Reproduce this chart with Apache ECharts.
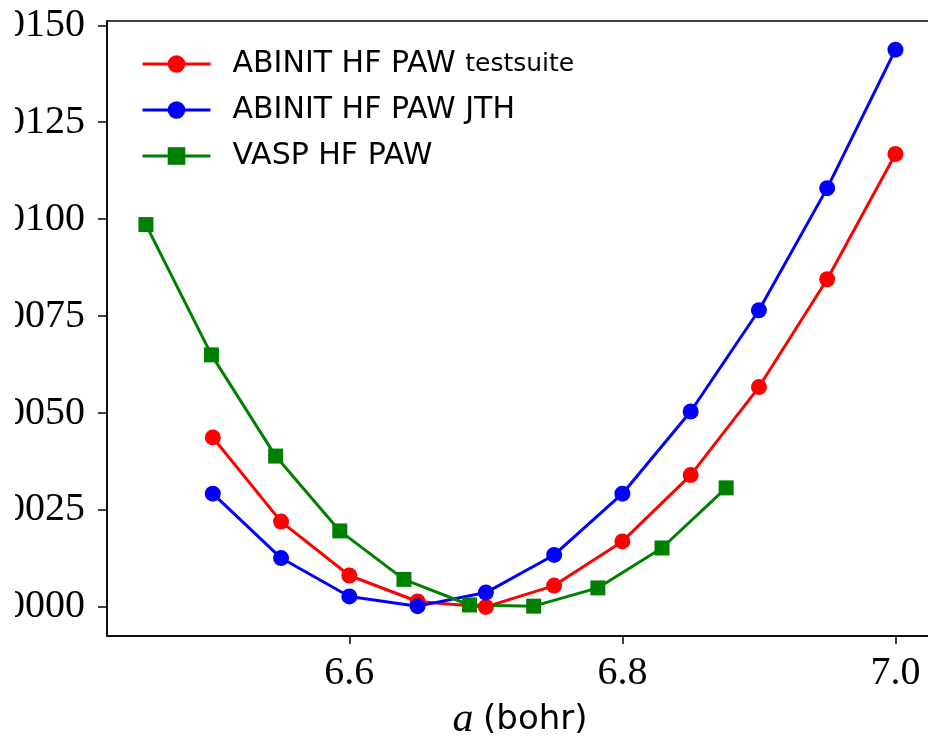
<!DOCTYPE html>
<html>
<head>
<meta charset="utf-8">
<script src="https://cdn.jsdelivr.net/npm/echarts@6/dist/echarts.min.js"></script>
<style>
html,body{margin:0;padding:0;background:#fff;}
#chart{width:928px;height:740px;}
</style>
</head>
<body>
<div id="chart"></div>
<script>
// ---- data ----
const abinitX = [6.50, 6.55, 6.60, 6.65, 6.70, 6.75, 6.80, 6.85, 6.90, 6.95, 7.00];
const testsuiteY = [0.00437, 0.00220, 0.00081, 0.00014, 0.00000, 0.00055, 0.00169, 0.00340, 0.00567, 0.00845, 0.01168];
const jthY = [0.00292, 0.00126, 0.00027, 0.00002, 0.00037, 0.00134, 0.00292, 0.00504, 0.00765, 0.01080, 0.01437];
const vaspX = [6.451, 6.499, 6.546, 6.593, 6.640, 6.688, 6.735, 6.782, 6.829, 6.876];
const vaspY = [0.00986, 0.00650, 0.00389, 0.00196, 0.00071, 0.00005, 0.00002, 0.00049, 0.00152, 0.00307];
const seriesNames = ['ABINIT HF PAW testsuite', 'ABINIT HF PAW JTH', 'VASP HF PAW'];
const xTicks = [6.6, 6.8, 7.0];
const yTicks = [0.0000, 0.0025, 0.0050, 0.0075, 0.0100, 0.0125, 0.0150];
const xLabel = ['a', '(bohr)'];

const pairs = (xs, ys) => xs.map((x, i) => [x, ys[i]]);
const SERIF = 'Liberation Serif';
const SANS = 'DejaVu Sans';
const LW = 3;

const chart = echarts.init(document.getElementById('chart'), null, {renderer: 'canvas'});
chart.setOption({
  animation: false,
  backgroundColor: '#ffffff',
  grid: {
    left: 107, top: 21, width: 826, height: 615,
    containLabel: false, outerBoundsMode: 'none',
    show: true, borderColor: '#000', borderWidth: 1.5, backgroundColor: 'transparent'
  },
  legend: {
    left: 136, top: 41, orient: 'vertical',
    itemWidth: 68, itemHeight: 22, itemGap: 10,
    data: seriesNames,
    lineStyle: {width: LW},
    textStyle: {
      fontFamily: SANS, fontSize: 30, color: '#000', lineHeight: 36, padding: [0, 0, 0, 17],
      rich: {
        m: {fontFamily: SANS, fontSize: 30, color: '#000', lineHeight: 36},
        s: {fontFamily: SANS, fontSize: 25, color: '#000', lineHeight: 36}
      }
    },
    formatter: function (name) {
      if (name.endsWith(' testsuite')) {
        return '{m|' + name.slice(0, -' testsuite'.length) + ' }{s|testsuite}';
      }
      return '{m|' + name + '}';
    }
  },
  xAxis: {
    type: 'value', min: 6.4225, max: 7.0275,
    splitLine: {show: false},
    axisLine: {show: true, onZero: false, lineStyle: {color: '#000', width: 1.5}},
    axisTick: {show: true, inside: false, length: 8, customValues: xTicks, lineStyle: {color: '#000', width: 1.5}},
    axisLabel: {
      customValues: xTicks, margin: 17,
      fontFamily: SERIF, fontSize: 40, color: '#000',
      formatter: v => v.toFixed(1)
    },
    name: '{i|' + xLabel[0] + '}{g| }{s|' + xLabel[1] + '}',
    nameLocation: 'middle', nameGap: 63,
    nameTextStyle: {
      color: '#000',
      rich: {
        i: {fontFamily: SERIF, fontStyle: 'italic', fontSize: 42, color: '#000'},
        g: {fontFamily: SANS, fontSize: 30, color: '#000'},
        s: {fontFamily: SANS, fontSize: 34, color: '#000'}
      }
    }
  },
  yAxis: {
    type: 'value', min: -0.00075, max: 0.01511,
    splitLine: {show: false},
    axisLine: {show: true, onZero: false, lineStyle: {color: '#000', width: 1.5}},
    axisTick: {show: true, inside: false, length: 9, customValues: yTicks, lineStyle: {color: '#000', width: 1.5}},
    axisLabel: {
      customValues: yTicks, margin: 22,
      fontFamily: SERIF, fontSize: 40, color: '#000',
      formatter: v => v.toFixed(4)
    }
  },
  series: [
    {
      name: seriesNames[0], type: 'line', data: pairs(abinitX, testsuiteY),
      symbol: 'circle', symbolSize: 16, showAllSymbol: true,
      itemStyle: {color: '#ff0000'}, lineStyle: {color: '#ff0000', width: LW}
    },
    {
      name: seriesNames[1], type: 'line', data: pairs(abinitX, jthY),
      symbol: 'circle', symbolSize: 16, showAllSymbol: true,
      itemStyle: {color: '#0000ff'}, lineStyle: {color: '#0000ff', width: LW}
    },
    {
      name: seriesNames[2], type: 'line', data: pairs(vaspX, vaspY),
      symbol: 'rect', symbolSize: 15, showAllSymbol: true,
      itemStyle: {color: '#008000'}, lineStyle: {color: '#008000', width: LW}
    }
  ],
  graphic: [
    {type: 'rect', left: 0, top: 0, shape: {width: 15, height: 700}, style: {fill: '#ffffff'}, z: 100}
  ]
});
</script>
</body>
</html>
